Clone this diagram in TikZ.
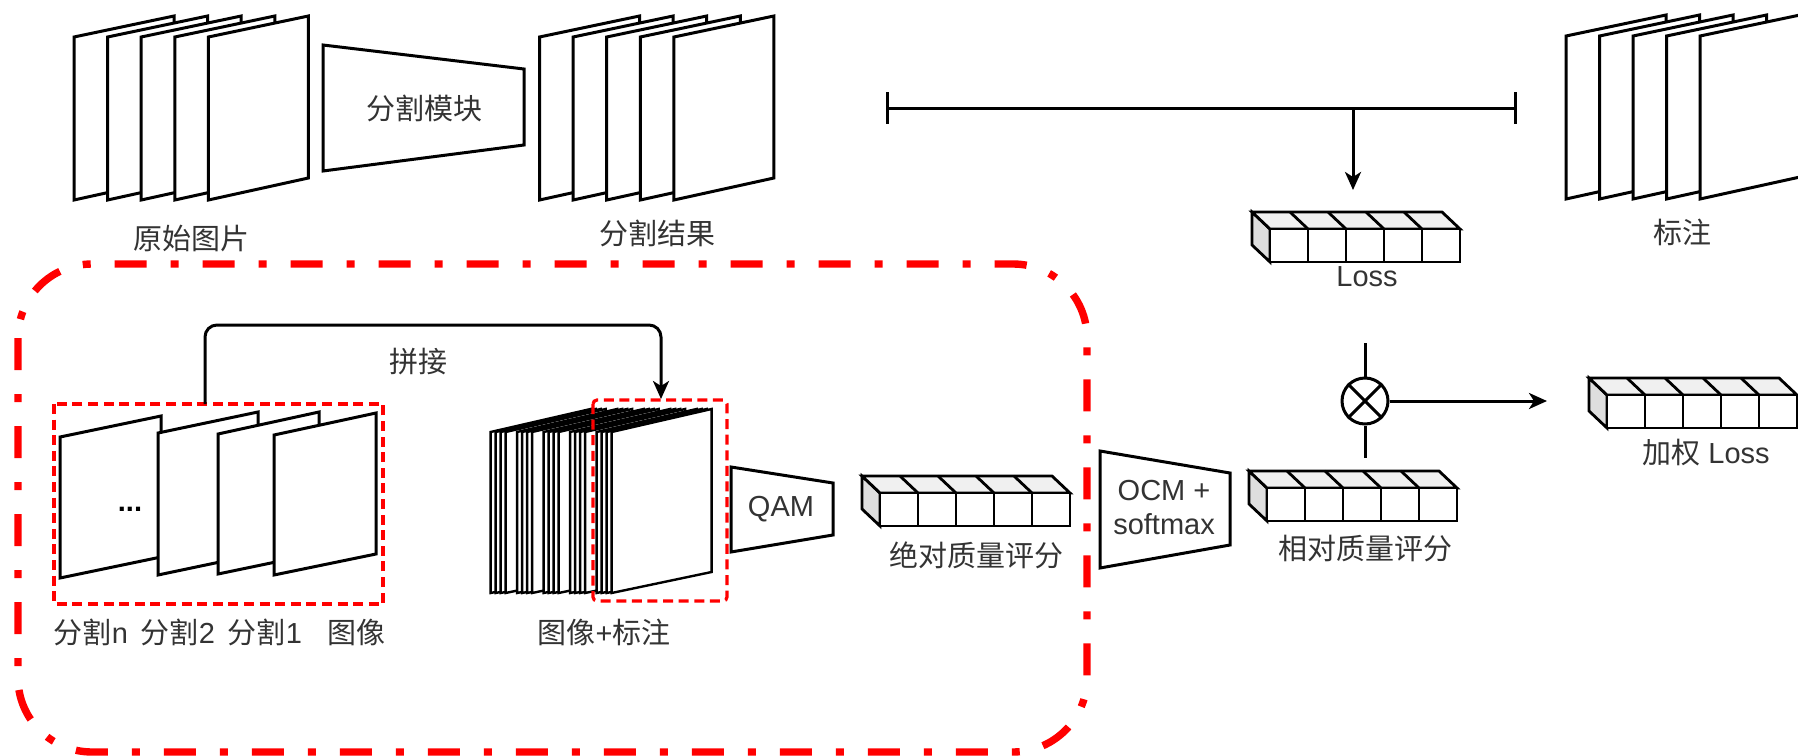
\documentclass[tikz,border=0pt]{standalone}
\usepackage{fontspec}
\setmainfont{Liberation Sans}
\newfontfamily\cjk{Noto Sans CJK SC}
\usetikzlibrary{arrows.meta}
\definecolor{txt}{HTML}{333333}
\definecolor{redline}{HTML}{FF0000}
\tikzset{
  sheet/.style={draw=black, fill=white, line width=1.5pt, line join=miter},
  thinsheet/.style={draw=black, fill=white, line width=1.2pt, line join=miter},
  trap/.style={draw=black, fill=white, line width=1.5pt, line join=miter},
  cellline/.style={draw=black, line width=1.4pt, line join=miter},
  lbl/.style={text=txt, font=\fontsize{14.5}{17}\selectfont, inner sep=0pt},
  conn/.style={draw=black, line width=1.5pt},
  arrowtip/.style={-{Stealth[length=9pt,width=8pt,inset=2.5pt]}},
  smallred/.style={draw=redline, line width=1.6pt, dash pattern=on 5pt off 2.8pt},
  bigred/.style={draw=redline, line width=3.7pt, dash pattern=on 16pt off 12pt on 4pt off 12pt},
}
\newcommand\cellarray[2]{%
  \begin{scope}[shift={(#1,#2)}]
    \draw[cellline, fill=black!13] (0,0) -- (-18,-17) -- (-18,16) -- (0,33) -- cycle;
    \draw[cellline, fill=black!6] (0,0) -- (-18,-17) -- (172,-17) -- (190,0) -- cycle;
    \foreach \k in {1,...,4} \draw[cellline] ({38*\k},0) -- ({38*\k-18},-17);
    \draw[cellline, fill=white] (0,0) rectangle (190,33);
    \foreach \k in {1,...,4} \draw[cellline] ({38*\k},0) -- ({38*\k},33);
  \end{scope}}
\begin{document}
\begin{tikzpicture}[x=0.5pt,y=-0.5pt]
\useasboundingbox (0,0) rectangle (1798,755);

% ---------- top row ----------
\foreach \i in {0,...,4}
  \draw[sheet] ({74+33.6*\i},37) -- ++(100,-21) -- ++(0,162) -- ++(-100,22) -- cycle;
\node[lbl] (orig) at (191,238) {\cjk 原始图片};

\draw[trap] (323,45) -- (524,69) -- (524,145) -- (323,171) -- cycle;
\node[lbl] (segmod) at (424,108) {\cjk 分割模块};

\foreach \i in {0,...,4}
  \draw[sheet] ({539.5+33.6*\i},37) -- ++(100,-21) -- ++(0,162) -- ++(-100,22) -- cycle;
\node[lbl] (segres) at (657,233) {\cjk 分割结果};

\foreach \i in {0,...,4}
  \draw[sheet] ({1566+33.5*\i},36) -- ++(100,-21) -- ++(0,162) -- ++(-100,22) -- cycle;
\node[lbl] (gt) at (1682,232) {\cjk 标注};

% bar with arrow to loss
\coordinate (barL) at (887,108);
\coordinate (barR) at (1515,108);
\coordinate (barM) at (1353,108);
\coordinate (barLt) at (887,92);
\coordinate (barLb) at (887,124);
\coordinate (barRt) at (1515,92);
\coordinate (barRb) at (1515,124);
\draw[conn] (barL) -- (barR);
\draw[conn] (barLt) -- (barLb);
\draw[conn] (barRt) -- (barRb);
\coordinate (lossIn) at (1353,190);
\draw[conn, arrowtip] (barM) -- (lossIn);

\cellarray{1270}{229}
\node[lbl] (loss) at (1367,277) {Loss};

% ---------- dashed region ----------
\draw[bigred, rounded corners=37pt] (18,264) rectangle (1087,752);

% segmentations + image
\draw[sheet] (60,437) -- ++(101,-21) -- ++(0,141) -- ++(-101,21) -- cycle;
\draw[sheet] (158,433) -- ++(100,-21) -- ++(0,142) -- ++(-100,21) -- cycle;
\draw[sheet] (218,434) -- ++(101,-22) -- ++(0,141) -- ++(-101,21) -- cycle;
\draw[sheet] (274,435) -- ++(102,-22) -- ++(0,141) -- ++(-102,21) -- cycle;
\node[font=\fontsize{14.5}{17}\selectfont\bfseries, inner sep=0pt] (dots) at (130,509) {...};
\draw[smallred] (54,404) rectangle (383,604);
\node[lbl] (segn) at (91,632) {{\cjk 分割}n};
\node[lbl] (seg2) at (178,632) {{\cjk 分割}2};
\node[lbl] (seg1) at (265,632) {{\cjk 分割}1};
\node[lbl] (img) at (356,632) {\cjk 图像};

% concatenation connector
\coordinate (catA) at (205,404);
\coordinate (catMid) at (433,325);
\coordinate (catB) at (661,399);
\draw[conn, arrowtip, rounded corners=6pt] (catA) |- (catMid) -| (catB);
\node[lbl] (cat) at (418,362) {\cjk 拼接};

% concatenated stack
\foreach \g in {0,...,4}
  \foreach \k in {0,...,3}
    \draw[thinsheet] ({490.6+26.5*\g+5*\k},432) -- ++(100,-23) -- ++(0,163) -- ++(-100,21) -- cycle;
\draw[smallred, rounded corners=2pt] (593,400) rectangle (727,601);
\node[lbl] (imggt) at (604,632) {{\cjk 图像}+{\cjk 标注}};

% QAM
\draw[trap] (731,467) -- (833,483) -- (833,535) -- (731,552) -- cycle;
\node[lbl] (qam) at (781,509) {QAM};

\cellarray{880}{493}
\node[lbl] (abs) at (976,555) {\cjk 绝对质量评分};

% ---------- right part ----------
\draw[trap] (1100,451) -- (1230,473) -- (1230,545) -- (1100,568) -- cycle;
\node[lbl, align=center] (ocm) at (1164,508) {OCM +\\softmax};

\cellarray{1267}{488}
\node[lbl] (rel) at (1365,549) {\cjk 相对质量评分};

\node[draw=black, circle, line width=1.5pt, minimum size=23pt, inner sep=0pt] (mul) at (1365,401) {};
\draw[conn] (mul.north west) -- (mul.south east);
\draw[conn] (mul.north east) -- (mul.south west);
\coordinate (mulTop) at (1365,343);
\coordinate (mulBot) at (1365,458);
\draw[conn] (mulTop) -- (mul.north);
\draw[conn] (mul.south) -- (mulBot);
\coordinate (wIn) at (1547,401);
\draw[conn, arrowtip] (mul.east) -- (wIn);

\cellarray{1607}{395}
\node[lbl] (wloss) at (1706,453) {{\cjk 加权} Loss};
\end{tikzpicture}
\end{document}
